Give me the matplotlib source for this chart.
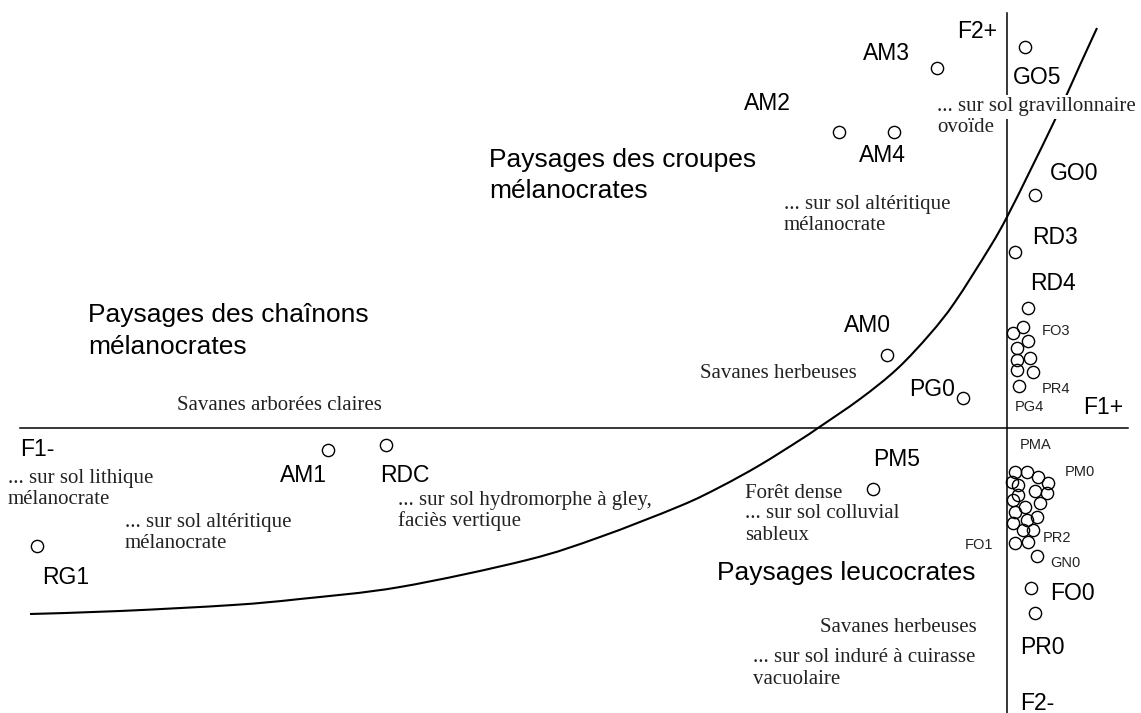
import matplotlib
matplotlib.use("Agg")
import matplotlib.pyplot as plt
from matplotlib.path import Path
from matplotlib.patches import PathPatch

# ---- data: factor scores (F1, F2) ----
named_labels = ["GO5", "AM3", "AM2", "AM4", "GO0", "RD3", "RD4", "AM0", "PG0",
                "AM1", "RDC", "RG1", "PM5", "GN0", "FO0", "PR0"]
named_f1 = [0.18, -0.70, -1.68, -1.13, 0.28, 0.08, 0.21, -1.20, -0.44,
            -6.79, -6.21, -9.70, -1.34, 0.30, 0.24, 0.28]
named_f2 = [3.81, 3.60, 2.96, 2.96, 2.33, 1.76, 1.20, 0.73, 0.30,
            -0.22, -0.17, -1.18, -0.61, -1.28, -1.60, -1.85]

# cluster FO3 ... PR4 / PG4
cluster1_f1 = [0.16, 0.06, 0.21, 0.10, 0.23, 0.10, 0.10, 0.26, 0.12]
cluster1_f2 = [1.01, 0.95, 0.87, 0.80, 0.70, 0.68, 0.58, 0.56, 0.42]

# cluster PMA ... PR2 / FO1
cluster2_f1 = [0.08, 0.20, 0.31, 0.05, 0.11, 0.41, 0.28, 0.40, 0.11, 0.06,
               0.18, 0.33, 0.08, 0.20, 0.30, 0.06, 0.16, 0.26, 0.08, 0.21]
cluster2_f2 = [-0.44, -0.44, -0.49, -0.54, -0.57, -0.55, -0.63, -0.65, -0.67, -0.72,
               -0.79, -0.75, -0.84, -0.92, -0.89, -0.95, -1.02, -1.02, -1.15, -1.14]

# boundary curve between melanocrate and leucocrate landscapes
curve_f1 = [-9.77, -8.87, -7.74, -7.07, -6.07, -4.80, -4.07, -3.27, -2.87, -2.47,
            -2.07, -1.89, -1.47, -1.10, -0.77, -0.52, -0.17, 0.00, 0.23, 0.45,
            0.60, 0.73, 0.90]
curve_f2 = [-1.86, -1.83, -1.77, -1.71, -1.59, -1.32, -1.09, -0.78, -0.59, -0.37,
            -0.12, 0.00, 0.29, 0.59, 0.94, 1.26, 1.81, 2.11, 2.57, 3.02,
            3.34, 3.63, 4.00]

# ---- layout helpers (pixel -> factor units) ----
X0, Y0, S = 1007.0, 428.0, 100.0
def fx(px):
    return (px - X0) / S
def fy(py):
    return (Y0 - py) / S

SANS = ["Liberation Sans", "DejaVu Sans"]
SERIF = ["Liberation Serif", "DejaVu Serif"]

fig = plt.figure(figsize=(11.41, 7.13), dpi=100)
ax = fig.add_axes([0, 0, 1, 1])
ax.set_xlim(fx(0), fx(1141))
ax.set_ylim(fy(713), fy(0))
ax.axis("off")

# axes of the factorial plane
ax.plot([fx(20), fx(1128)], [0, 0], color="black", lw=1.1, zorder=1)
ax.plot([0, 0], [fy(13), fy(713)], color="black", lw=1.1, zorder=1)

# boundary curve drawn as a smooth path through the read points (Catmull-Rom -> Bezier)
pts = list(zip(curve_f1, curve_f2))
verts = [pts[0]]
codes = [Path.MOVETO]
n = len(pts)
for i in range(n - 1):
    p0 = pts[i - 1] if i > 0 else pts[i]
    p1 = pts[i]
    p2 = pts[i + 1]
    p3 = pts[i + 2] if i + 2 < n else pts[i + 1]
    c1 = (p1[0] + (p2[0] - p0[0]) / 6.0, p1[1] + (p2[1] - p0[1]) / 6.0)
    c2 = (p2[0] - (p3[0] - p1[0]) / 6.0, p2[1] - (p3[1] - p1[1]) / 6.0)
    verts += [c1, c2, p2]
    codes += [Path.CURVE4, Path.CURVE4, Path.CURVE4]
ax.add_patch(PathPatch(Path(verts, codes), facecolor="none", edgecolor="black",
                       lw=1.5, zorder=1))

mk = dict(marker="o", ms=8.8, mfc="none", mec="black", mew=1.0, ls="none", zorder=3)
ax.plot(named_f1, named_f2, **mk)
ax.plot(cluster1_f1, cluster1_f2, **mk)
ax.plot(cluster2_f1, cluster2_f2, **mk)

big_texts = [
    ("Paysages des croupes", 489, 160, "left"),
    ("mélanocrates", 489, 191, "left"),
    ("Paysages des chaînons", 88, 315, "left"),
    ("mélanocrates", 88, 347, "left"),
    ("Paysages leucocrates", 717, 573, "left"),
]
for s, px, py, ha in big_texts:
    ax.text(fx(px), fy(py), s, family=SANS, fontsize=19, ha=ha, va="center", zorder=4)

point_texts = [
    ("F2+", 957, 32, "left"), ("AM3", 886, 53, "center"), ("GO5", 1013, 77, "left"),
    ("AM2", 767, 104, "center"), ("AM4", 882, 155, "center"), ("GO0", 1050, 173, "left"),
    ("RD3", 1032, 238, "left"), ("RD4", 1030, 283, "left"), ("AM0", 867, 325, "center"),
    ("PG0", 955, 390, "right"), ("F1+", 1083, 407, "left"), ("F1-", 20, 450, "left"),
    ("AM1", 303, 475, "center"), ("RDC", 380, 475, "left"), ("RG1", 66, 577, "center"),
    ("PM5", 897, 460, "center"), ("FO0", 1050, 593, "left"), ("PR0", 1020, 648, "left"),
    ("F2-", 1020, 703, "left"),
]
for s, px, py, ha in point_texts:
    ax.text(fx(px), fy(py), s, family=SANS, fontsize=16.5, ha=ha, va="center", zorder=4)

small_texts = [
    ("FO3", 1042, 331), ("PR4", 1042, 389), ("PG4", 1015, 407), ("PMA", 1020, 445),
    ("PM0", 1065, 472), ("PR2", 1043, 538), ("FO1", 965, 545), ("GN0", 1050, 563),
]
for s, px, py in small_texts:
    ax.text(fx(px), fy(py), s, family=SANS, fontsize=10.5, ha="left", va="center",
            color="#222222", zorder=4)

serif_texts = [
    ("... sur sol gravillonnaire", 937, 107, "left", True),
    ("ovoïde", 937, 128, "left", True),
    ("... sur sol altéritique", 784, 204, "left", False),
    ("mélanocrate", 784, 225, "left", False),
    ("Savanes herbeuses", 700, 373, "left", False),
    ("Savanes arborées claires", 177, 405, "left", False),
    ("... sur sol lithique", 8, 478, "left", False),
    ("mélanocrate", 8, 500, "left", False),
    ("... sur sol altéritique", 125, 522, "left", False),
    ("mélanocrate", 125, 543, "left", False),
    ("... sur sol hydromorphe à gley,", 398, 500, "left", False),
    ("faciès vertique", 398, 521, "left", False),
    ("Forêt dense", 745, 493, "left", False),
    ("... sur sol colluvial", 745, 513, "left", False),
    ("sableux", 745, 535, "left", False),
    ("Savanes herbeuses", 977, 627, "right", False),
    ("... sur sol induré à cuirasse", 753, 658, "left", False),
    ("vacuolaire", 753, 679, "left", False),
]
for s, px, py, ha, boxed in serif_texts:
    kw = {}
    if boxed:
        kw["bbox"] = dict(facecolor="white", edgecolor="none", pad=1.5)
    ax.text(fx(px), fy(py), s, family=SERIF, fontsize=15, ha=ha, va="center",
            color="#222222", zorder=5, **kw)

fig.savefig("out.png", dpi=100, facecolor="white")
